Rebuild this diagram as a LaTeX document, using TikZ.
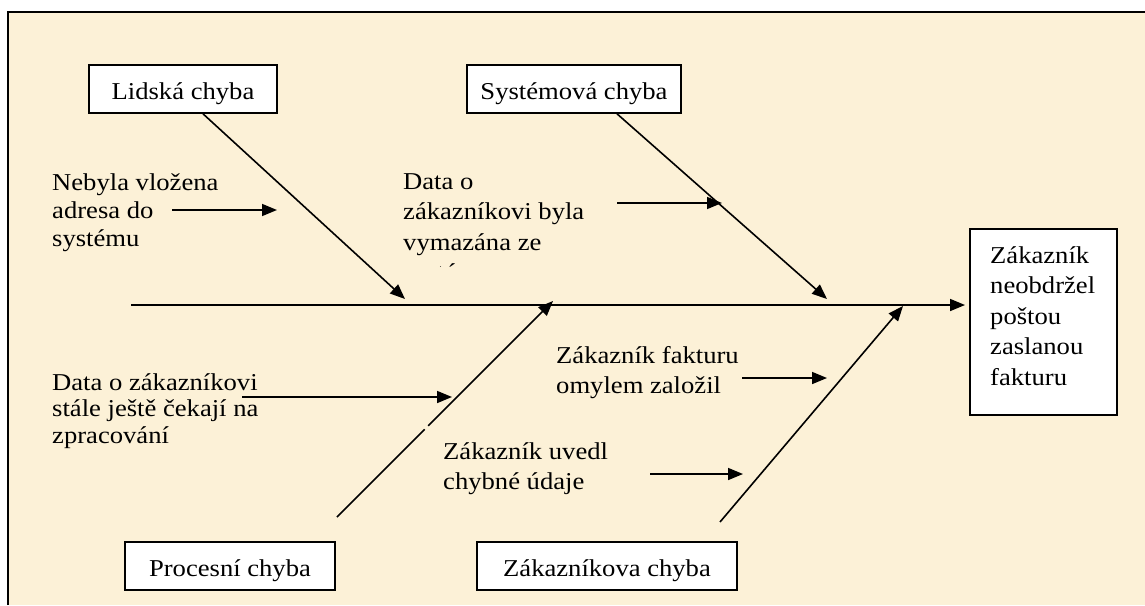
\documentclass[tikz,border=0pt]{standalone}
\usepackage{fontspec}
\setmainfont{Liberation Serif}[FakeStretch=1.1]
\usetikzlibrary{arrows.meta}
\definecolor{parchment}{RGB}{252,241,215}
\begin{document}
\begin{tikzpicture}[x=1pt,y=-1pt,
  txt/.style={font=\fontsize{24.2pt}{30.5pt}\selectfont},
  cause/.style={txt, draw, line width=1.6pt, fill=white, inner sep=0pt,
    minimum height=48pt, text height=20pt, text depth=0pt},
  note/.style={txt, anchor=base west, inner sep=0pt},
  bone/.style={line width=1.6pt, -{Triangle[length=15pt,width=12pt]}},
]
% page and frame
\useasboundingbox (0,0) rectangle (1145,605);
\fill[white] (0,0) rectangle (1145,605);
\fill[parchment] (8,12) rectangle (1145,605);
\draw[line width=2pt] (8,605) -- (8,12) -- (1145,12);

% category boxes
\node[cause, minimum width=188pt] (human)    at (183,89)  {Lidská chyba};
\node[cause, minimum width=214pt] (system)   at (574,89)  {Systémová chyba};
\node[cause, minimum width=210pt] (process)  at (230,566) {Procesní chyba};
\node[cause, minimum width=260pt] (customer) at (607,566) {Zákazníkova chyba};

% effect box
\node[draw, line width=1.6pt, fill=white, inner sep=0pt, anchor=north west,
  minimum width=147pt, minimum height=186pt] (effect) at (969,228) {};
\node[note] (effecttext) at (990,263)
  {\vtop{\hbox{Zákazník}\hbox{neobdržel}\hbox{poštou}\hbox{zaslanou}\hbox{fakturu}}};

% spine
\coordinate (tail) at (131,305);
\draw[bone, shorten >=4pt] (tail) -- (tail -| effect.west);

% junctions and free ends of the bones
\coordinate (j1) at (405,299);
\coordinate (j2) at (827,299);
\coordinate (j3) at (553,301);
\coordinate (j4) at (903,306);
\coordinate (b3) at (337,517);
\coordinate (b4) at (720,522);

\draw[bone] ([xshift=20pt]human.south) -- (j1);
\draw[bone] ([xshift=43pt]system.south) -- (j2);
\draw[bone, dash pattern=on 124pt off 5pt on 400pt] (b3) -- (j3);
\draw[bone] (b4) -- (j4);

% causes
\node[note, font=\fontsize{24.2pt}{28pt}\selectfont] (noaddr) at (52,190)
  {\vtop{\hbox{Nebyla vložena}\hbox{adresa do}\hbox{systému}}};
\begin{scope}
  \clip (395,150) rectangle (700,266.5);
  \node[note] (deleted) at (403,189)
    {\vtop{\hbox{Data o}\hbox{zákazníkovi byla}\hbox{vymazána ze}\hbox{systému}}};
\end{scope}
\node[note, font=\fontsize{24.2pt}{26.5pt}\selectfont] (waiting) at (52,390)
  {\vtop{\hbox{Data o zákazníkovi}\hbox{stále ještě čekají na}\hbox{zpracování}}};
\node[note] (filed) at (556,363)
  {\vtop{\hbox{Zákazník fakturu}\hbox{omylem založil}}};
\node[note] (wrongdata) at (443,459)
  {\vtop{\hbox{Zákazník uvedl}\hbox{chybné údaje}}};

% cause arrows
\coordinate (a1) at (172,210); \coordinate (a1e) at (277,210);
\coordinate (a2) at (617,203); \coordinate (a2e) at (722,203);
\coordinate (a3) at (242,397); \coordinate (a3e) at (452,397);
\coordinate (a4) at (742,378); \coordinate (a4e) at (827,378);
\coordinate (a5) at (650,474); \coordinate (a5e) at (743,474);
\draw[bone] (a1) -- (a1e);
\draw[bone] (a2) -- (a2e);
\draw[bone] (a3) -- (a3e);
\draw[bone] (a4) -- (a4e);
\draw[bone] (a5) -- (a5e);
\end{tikzpicture}
\end{document}
